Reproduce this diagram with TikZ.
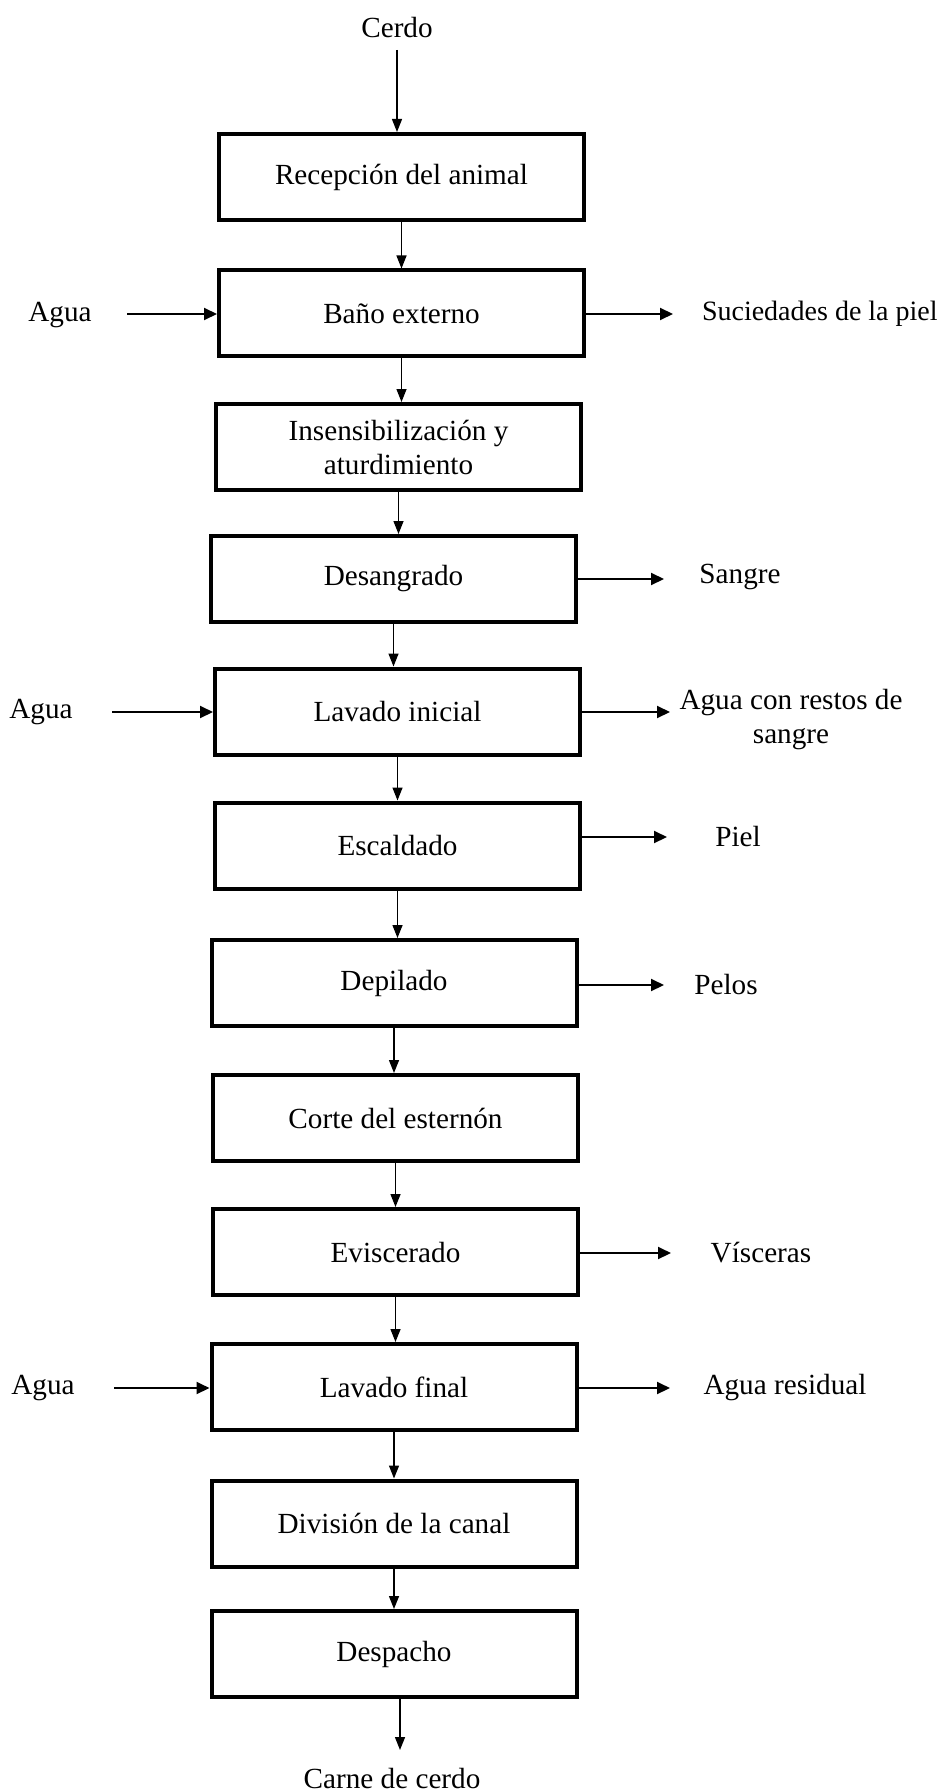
\documentclass[tikz,border=0pt]{standalone}
\usepackage{fontspec}
\setmainfont{Liberation Serif}
\usetikzlibrary{arrows.meta}
\begin{document}
\begin{tikzpicture}[x=0.5pt,y=-0.5pt,
  every node/.style={font=\fontsize{14.6pt}{17pt}\selectfont},
  procbox/.style={draw, line width=2pt, minimum width=182.5pt, minimum height=43pt,
    inner sep=0pt, align=center},
  lbl/.style={inner sep=0pt, align=center},
  flow/.style={line width=0.7pt, -{Triangle[length=6.5pt,width=5pt]}},
  side/.style={line width=1pt, -{Triangle[length=6.5pt,width=6pt]}}]
\useasboundingbox (0,0) rectangle (942,1792);

% process steps
\node[procbox] (rec)  at (401.5,177)   {Recepción del animal};
\node[procbox] (bano) at (401.5,313.5) {Baño externo};
\node[procbox] (ins)  at (398.5,447)   {Insensibilización y\\aturdimiento};
\node[procbox] (des)  at (393.5,579)   {Desangrado};
\node[procbox] (lavi) at (397.5,711.5) {Lavado inicial};
\node[procbox] (esc)  at (397.5,845.5) {Escaldado};
\node[procbox] (dep)  at (394,983)     {Depilado};
\node[procbox] (cor)  at (395.5,1118)  {Corte del esternón};
\node[procbox] (evi)  at (395.5,1252)  {Eviscerado};
\node[procbox] (lavf) at (394,1387)    {Lavado final};
\node[procbox] (div)  at (394,1523.5)  {División de la canal};
\node[procbox] (desp) at (394,1654)    {Despacho};

% input and output
\node[lbl] (cerdo) at (397,28) {Cerdo};
\node[lbl] (carne) at (392,1778) {Carne de cerdo};
\coordinate (cerdoend) at (397,50);
\coordinate (carneend) at (400,1750);

% side labels
\node[lbl] (agua1) at (60,315) {Agua};
\node[lbl] (agua2) at (41,712) {Agua};
\node[lbl] (agua3) at (43,1388) {Agua};
\node[lbl, anchor=east, font=\fontsize{14pt}{17pt}\selectfont] (suc) at (938,314) {Suciedades de la piel};
\node[lbl] (sangre) at (740,577) {Sangre};
\node[lbl] (restos) at (791,719.5) {Agua con restos de\\sangre};
\node[lbl] (piel) at (738,837) {Piel};
\node[lbl] (pelos) at (726,985) {Pelos};
\node[lbl] (visc) at (761,1253) {Vísceras};
\node[lbl] (resid) at (785,1388) {Agua residual};

% side arrow ends
\coordinate (i1) at (127,314);
\coordinate (i2) at (112,712);
\coordinate (i3) at (114,1388);
\coordinate (o1) at (673,314);
\coordinate (o2) at (664,579);
\coordinate (o3) at (670,712);
\coordinate (o4) at (667,837);
\coordinate (o5) at (664,985);
\coordinate (o6) at (671,1253);
\coordinate (o7) at (670,1388);

% main flow
\draw[flow] (cerdoend) -- (cerdoend |- rec.north);
\foreach \a/\b in {rec/bano, bano/ins, ins/des, des/lavi, lavi/esc, esc/dep,
                   dep/cor, cor/evi, evi/lavf, lavf/div, div/desp}
  \draw[flow] (\a.south) -- (\a.south |- \b.north);
\draw[flow] (desp.south -| carneend) -- (carneend);

% inputs
\draw[side] (i1) -- (i1 -| bano.west);
\draw[side] (i2) -- (i2 -| lavi.west);
\draw[side] (i3) -- (i3 -| lavf.west);

% outputs
\draw[side] (o1 -| bano.east) -- (o1);
\draw[side] (o2 -| des.east) -- (o2);
\draw[side] (o3 -| lavi.east) -- (o3);
\draw[side] (o4 -| esc.east) -- (o4);
\draw[side] (o5 -| dep.east) -- (o5);
\draw[side] (o6 -| evi.east) -- (o6);
\draw[side] (o7 -| lavf.east) -- (o7);
\end{tikzpicture}
\end{document}
